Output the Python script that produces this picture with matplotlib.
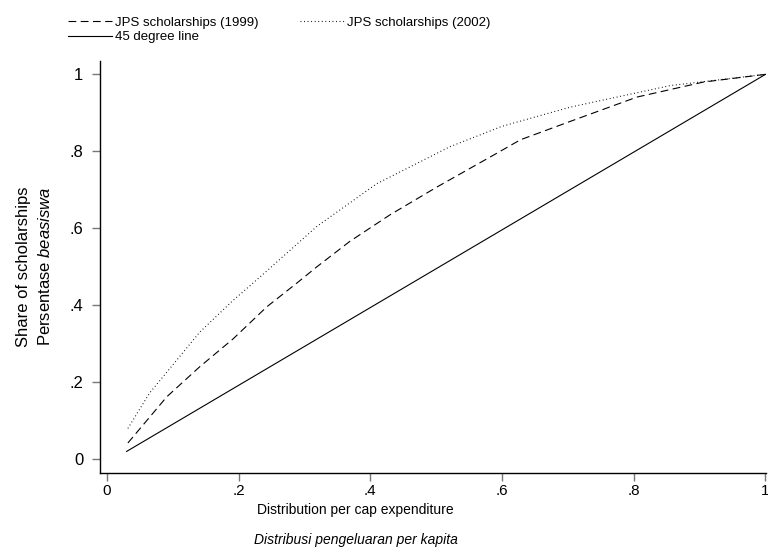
import matplotlib
matplotlib.use("Agg")
import matplotlib.pyplot as plt

# ── Data ──────────────────────────────────────────────────────────────────
x_1999 = [0.032, 0.091, 0.141, 0.192, 0.243, 0.291, 0.319, 0.369, 0.430, 0.501,
          0.587, 0.628, 0.704, 0.805, 0.906, 1.000]
y_1999 = [0.042, 0.162, 0.240, 0.313, 0.396, 0.461, 0.500, 0.566, 0.635, 0.707,
          0.790, 0.830, 0.878, 0.941, 0.980, 1.000]

x_2002 = [0.032, 0.065, 0.106, 0.141, 0.192, 0.233, 0.273, 0.319, 0.410, 0.521,
          0.600, 0.704, 0.856, 1.000]
y_2002 = [0.080, 0.172, 0.257, 0.330, 0.413, 0.474, 0.535, 0.605, 0.716, 0.812,
          0.865, 0.915, 0.971, 1.000]

x_45 = [0.030, 1.000]
y_45 = [0.020, 1.000]

xticks = [0, 0.2, 0.4, 0.6, 0.8, 1]
xticklabels = ["0", ".2", ".4", ".6", ".8", "1"]
yticks = [0, 0.2, 0.4, 0.6, 0.8, 1]
yticklabels = ["0", ".2", ".4", ".6", ".8", "1"]

# ── Style ─────────────────────────────────────────────────────────────────
plt.rcParams["font.family"] = ["Liberation Sans", "DejaVu Sans"]
plt.rcParams["mathtext.fontset"] = "custom"
plt.rcParams["mathtext.rm"] = "Liberation Sans"
plt.rcParams["mathtext.it"] = "Liberation Sans:italic"

fig = plt.figure(figsize=(7.68, 5.5), dpi=100)
ax = fig.add_axes([0.130, 0.14, 0.868, 0.75])

ax.plot(x_1999, y_1999, color="black", lw=0.8, dashes=(7, 4), label="JPS scholarships (1999)")
ax.plot(x_45, y_45, color="black", lw=0.8, label="45 degree line")
ax.plot(x_2002, y_2002, color="black", lw=0.8, dashes=(0.8, 2.4), label="JPS scholarships (2002)")

ax.set_xlim(-0.0106, 1.0015)
ax.set_ylim(-0.036, 1.036)
ax.set_xticks(xticks, xticklabels)
ax.set_yticks(yticks, yticklabels)
ax.tick_params(axis="both", direction="out", length=6, width=1, color="#777777", labelsize=12)
ax.tick_params(axis="x", pad=2, labelsize=11)
ax.tick_params(axis="y", pad=6)
for s in ["top", "right"]:
    ax.spines[s].set_visible(False)
for s in ["left", "bottom"]:
    ax.spines[s].set_linewidth(1)

ax.set_ylabel("Share of scholarships\nPersentase $\\mathit{beasiswa}$", fontsize=12,
              labelpad=12, linespacing=1.45)
fig.text(0.463, 0.073, "Distribution per cap expenditure", ha="center", va="center", fontsize=10)
fig.text(0.463, 0.018, "Distribusi pengeluaran per kapita", ha="center", va="center",
         fontsize=10, style="italic")

h, l = ax.get_legend_handles_labels()
fig.legend(h, l, ncol=2, loc="upper left", bbox_to_anchor=(0.076, 0.987), frameon=False,
           fontsize=9.5, handlelength=3.4, handletextpad=0.2, columnspacing=3.1,
           labelspacing=0.2, borderaxespad=0.3)

fig.savefig("out.png", dpi=100)
